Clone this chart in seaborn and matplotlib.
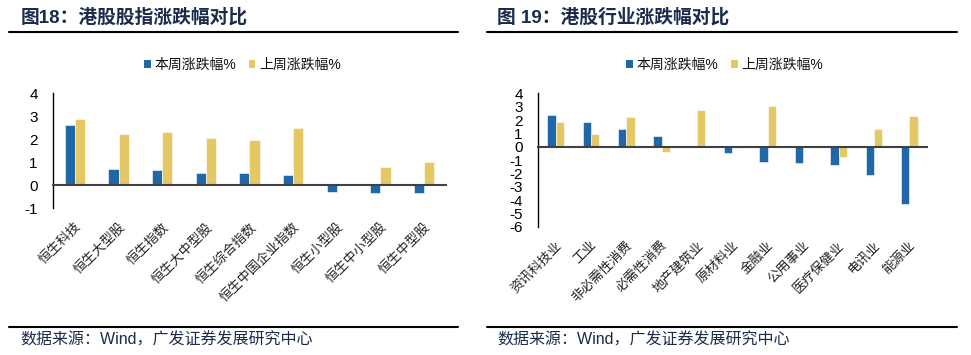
import matplotlib
matplotlib.use('Agg')
import matplotlib.pyplot as plt
import numpy as np
import pandas as pd
import seaborn as sns
from matplotlib.patches import Patch
from matplotlib.lines import Line2D

# 图18 港股股指
idx_names = ['恒生科技', '恒生大型股', '恒生指数', '恒生大中型股', '恒生综合指数',
             '恒生中国企业指数', '恒生小型股', '恒生中小型股', '恒生中型股']
idx_this = [2.62, 0.70, 0.67, 0.55, 0.52, 0.44, -0.28, -0.32, -0.35]
idx_last = [2.87, 2.24, 2.31, 2.05, 1.98, 2.50, 0.00, 0.79, 1.03]

# 图19 港股行业
ind_names = ['资讯科技业', '工业', '非必需性消费', '必需性消费', '地产建筑业',
             '原材料业', '金融业', '公用事业', '医疗保健业', '电讯业', '能源业']
ind_this = [2.38, 1.88, 1.35, 0.80, 0.00, -0.47, -1.15, -1.20, -1.40, -2.10, -4.30]
ind_last = [1.85, 0.95, 2.23, -0.42, 2.75, -0.10, 3.05, 0.00, -0.75, 1.32, 2.30]

series = ['本周涨跌幅%', '上周涨跌幅%']
colors = ['#1F67A6', '#E5C866']

sns.set_style('white')
plt.rcParams['font.family'] = ['Liberation Sans', 'Noto Sans CJK SC']
plt.rcParams['axes.unicode_minus'] = False

fig = plt.figure(figsize=(9.71, 3.55), dpi=100)


def draw(ax, names, this, last, ylo, yhi):
    n = len(names)
    df = pd.DataFrame({'name': names * 2,
                       'series': [series[0]] * n + [series[1]] * n,
                       'value': this + last})
    sns.barplot(data=df, x='name', y='value', hue='series', palette=colors,
                width=0.47, saturation=1, edgecolor='white', linewidth=0.4,
                ax=ax, legend=False)
    ax.set_xlim(-0.5, n - 0.5)
    ax.set_ylim(ylo, yhi)
    ax.set_yticks(range(ylo, yhi + 1))
    ax.set_xlabel('')
    ax.set_ylabel('')
    for s in ['top', 'right']:
        ax.spines[s].set_visible(False)
    ax.spines['left'].set_color('black')
    ax.spines['left'].set_linewidth(1)
    ax.spines['bottom'].set_position(('data', 0))
    ax.spines['bottom'].set_color('#404040')
    ax.spines['bottom'].set_linewidth(1.5)
    ax.set_xticks(np.arange(n + 1) - 0.5, [''] * (n + 1))
    ax.tick_params(axis='x', direction='out', length=4, width=1, color='#404040')
    ax.tick_params(axis='y', direction='out', length=3, width=1, color='black',
                   labelsize=11, labelcolor='black', pad=8)
    sec = ax.secondary_xaxis('bottom')
    sec.set_xticks(range(n), names, rotation=45, ha='right',
                   rotation_mode='anchor', fontsize=9.5, color='#222222')
    sec.tick_params(length=0, pad=9)
    sec.spines['bottom'].set_visible(False)


ax1 = fig.add_axes([0.0546, 0.413, 0.4047, 0.324])
draw(ax1, idx_names, idx_this, idx_last, -1, 4)
ax2 = fig.add_axes([0.554, 0.3614, 0.4006, 0.3756])
draw(ax2, ind_names, ind_this, ind_last, -6, 4)

handles = [Patch(facecolor=c, edgecolor='none') for c in colors]
for cx in [0.2495, 0.7465]:
    fig.legend(handles, series, loc='center', bbox_to_anchor=(cx, 1 - 65 / 355),
               ncol=2, frameon=False, fontsize=10, handlelength=0.5,
               handleheight=0.5, handletextpad=0.25, columnspacing=0.9,
               labelcolor='#111111')

title_color = '#1B2B4B'
fig.text(21 / 971, 1 - 17 / 355, '图18：港股股指涨跌幅对比', fontsize=13.5,
         fontweight='bold', color=title_color, va='center', ha='left')
fig.text(497 / 971, 1 - 17 / 355, '图 19：港股行业涨跌幅对比', fontsize=13.5,
         fontweight='bold', color=title_color, va='center', ha='left')

for x0, x1 in [(9, 458), (487, 957)]:
    for yy in [32, 327]:
        fig.add_artist(Line2D([x0 / 971, x1 / 971], [1 - yy / 355, 1 - yy / 355],
                              color='black', linewidth=1.5))

for x0 in [20, 497]:
    fig.text(x0 / 971, 1 - 340 / 355, '数据来源：Wind，广发证券发展研究中心',
             fontsize=11.5, color='#1B2B4B', va='center', ha='left')

fig.savefig('out.png', dpi=100)
